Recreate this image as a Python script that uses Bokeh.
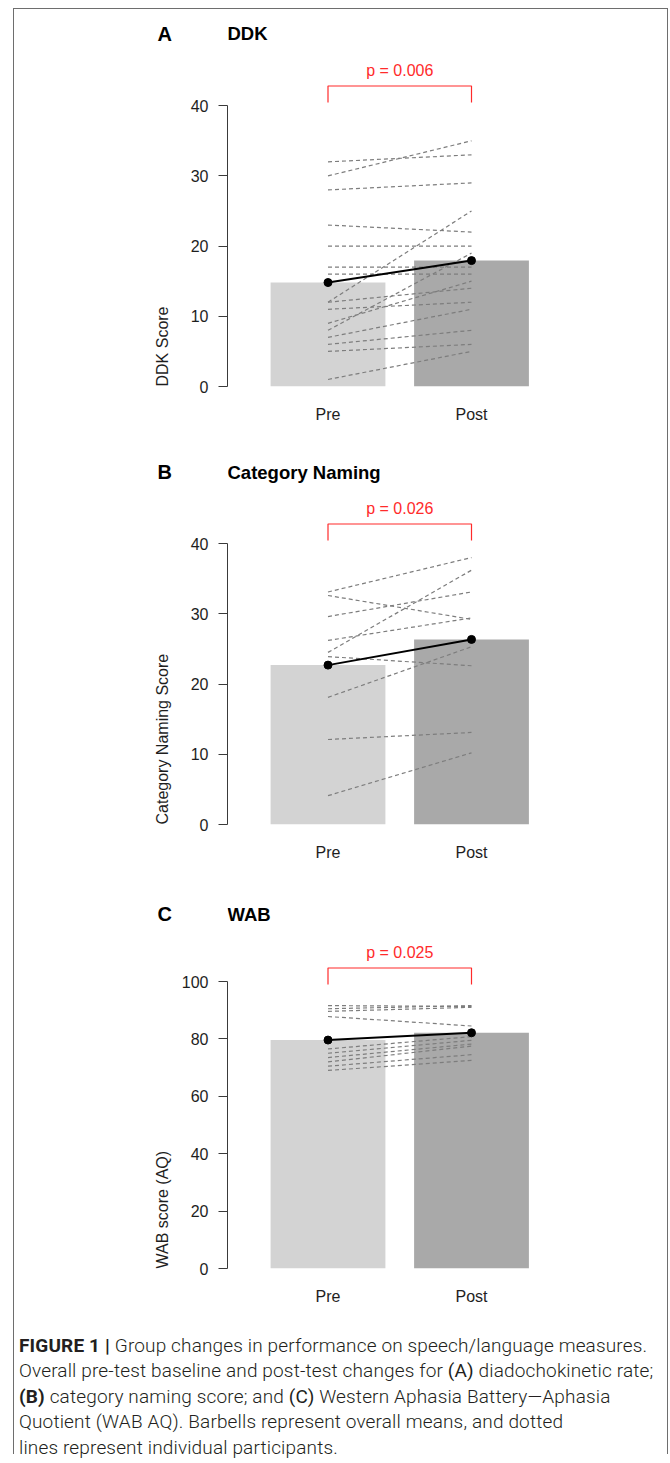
import numpy as np
from bokeh.plotting import figure
from bokeh.models import Range1d, FixedTicker, Label, Div, ColumnDataSource
from bokeh.layouts import column, row
from bokeh.embed import file_html
from bokeh.resources import INLINE

# ---------------- data ----------------
categories = ["Pre", "Post"]

ddk_pre = [32, 30, 28, 23, 20, 17, 16, 12, 12, 11, 9, 8, 7, 6, 5, 1]
ddk_post = [33, 35, 29, 22, 20, 17, 16, 25, 14, 12, 15, 19, 11, 8, 6, 5]

naming_pre = [33.1, 32.6, 29.6, 26.2, 24.5, 23.9, 18.1, 12.1, 4.1]
naming_post = [38.0, 29.2, 33.1, 29.4, 36.2, 22.6, 25.3, 13.1, 10.2]

wab_pre = [91.6, 90.5, 89.6, 87.8, 76.5, 75.0, 73.5, 72.0, 70.5, 69.0]
wab_post = [91.3, 91.6, 91.0, 84.5, 80.8, 79.5, 78.2, 77.5, 74.5, 72.5]

panel_letters = ["A", "B", "C"]
panel_titles = ["DDK", "Category Naming", "WAB"]
y_labels = ["DDK Score", "Category Naming Score", "WAB score (AQ)"]
p_values = ["p = 0.006", "p = 0.026", "p = 0.025"]
ddk_ticks = [0, 10, 20, 30, 40]
naming_ticks = [0, 10, 20, 30, 40]
wab_ticks = [0, 20, 40, 60, 80, 100]

caption_lines = [
    ("FIGURE 1 |", " Group changes in performance on speech/language measures."),
    ("", "Overall pre-test baseline and post-test changes for <b>(A)</b> diadochokinetic rate;"),
    ("(B)", " category naming score; and <b>(C)</b> Western Aphasia Battery\u2014Aphasia"),
    ("", "Quotient (WAB AQ). Barbells represent overall means, and dotted"),
    ("", "lines represent individual participants."),
]

# ---------------- layout / style constants (page pixels) ----------------
FIG_LEFT = 14          # page x of content left edge (inside border)
FIG_W = 653
SPLIT_X = 175          # page x where the side strip ends and the plot starts
AXIS_X = 227           # page x of the y axis
FRAME_RIGHT = 560
PRE_X = 327.5          # page x of the "Pre" position
PX_PER_CAT = 143.5
BAR_W = 0.80
FONT = "Liberation Sans"
TXT = "#1e1e1e"
AX = "#3a3a3a"
RED = "#ff2b2b"
BRACKET_TOP_PX = 300.5
BRACKET_LEG_PX = 284.0
PTEXT_PX = 316.0


def px_to_x(px):
    return 1 + (px - PRE_X) / PX_PER_CAT


def make_panel(letter, title, ylabel, pval, pre, post, ticks,
               fig_top, fig_h, zero_y, ppu, title_base):
    mbt = 6
    mbb = int(round(fig_top + fig_h - zero_y))
    frame_top = fig_top + mbt
    y_end = (zero_y - frame_top) / ppu
    yr = Range1d(0, y_end)

    # ---- main plot ----
    p = figure(width=FIG_LEFT + FIG_W - SPLIT_X, height=fig_h,
               x_range=Range1d(px_to_x(AXIS_X), px_to_x(FRAME_RIGHT)),
               y_range=yr,
               min_border_left=AXIS_X - SPLIT_X,
               min_border_right=FIG_LEFT + FIG_W - FRAME_RIGHT,
               min_border_top=mbt, min_border_bottom=mbb,
               toolbar_location=None, output_backend="svg", title=None)
    p.outline_line_color = None
    p.xgrid.visible = False
    p.ygrid.visible = False
    p.background_fill_color = "white"
    p.border_fill_color = "white"

    xs = list(range(1, len(categories) + 1))
    means = [float(np.mean(pre)), float(np.mean(post))]

    src = ColumnDataSource(dict(x=xs, top=means, color=["#d3d3d3", "#a9a9a9"]))
    p.vbar(x="x", top="top", bottom=0, width=BAR_W, fill_color="color",
           line_color=None, source=src)

    p.multi_line(xs=[xs for _ in pre], ys=[[a, b] for a, b in zip(pre, post)],
                 line_color="#7d7d7d", line_width=1.2, line_dash="4 3")

    p.line(xs, means, line_color="black", line_width=2)
    p.scatter(xs, means, size=8, color="black")

    top = BRACKET_TOP_PX / ppu
    leg = BRACKET_LEG_PX / ppu
    p.line([xs[0], xs[0], xs[1], xs[1]], [leg, top, top, leg],
           line_color=RED, line_width=1.2)
    p.add_layout(Label(x=(xs[0] + xs[1]) / 2, y=PTEXT_PX / ppu, text=pval,
                       text_font=FONT, text_font_size="16px", text_color=RED,
                       text_align="center", text_baseline="middle"))

    ya = p.yaxis[0]
    ya.ticker = FixedTicker(ticks=ticks)
    ya.bounds = (ticks[0], ticks[-1])
    ya.axis_line_color = AX
    ya.major_tick_line_color = AX
    ya.major_tick_out = 9
    ya.major_tick_in = 0
    ya.minor_tick_line_color = None
    ya.major_label_standoff = 10
    ya.major_label_text_font = FONT
    ya.major_label_text_font_size = "16px"
    ya.major_label_text_color = TXT

    xa = p.xaxis[0]
    xa.ticker = FixedTicker(ticks=xs)
    xa.major_label_overrides = {x: c for x, c in zip(xs, categories)}
    xa.axis_line_color = None
    xa.major_tick_line_color = None
    xa.minor_tick_line_color = None
    xa.major_tick_out = 0
    xa.major_tick_in = 0
    xa.major_label_standoff = 19
    xa.major_label_text_font = FONT
    xa.major_label_text_font_size = "16px"
    xa.major_label_text_color = TXT

    base_y = (zero_y - title_base) / ppu
    p.add_layout(Label(x=px_to_x(227), y=base_y, text=title, text_font=FONT,
                       text_font_size="18.5px", text_font_style="bold",
                       text_color="black", text_baseline="alphabetic"))

    # ---- left strip: panel letter and y-axis label ----
    s = figure(width=SPLIT_X - FIG_LEFT, height=fig_h,
               x_range=Range1d(FIG_LEFT, SPLIT_X), y_range=yr,
               min_border_left=0, min_border_right=0,
               min_border_top=mbt, min_border_bottom=mbb,
               x_axis_location=None, y_axis_location=None,
               toolbar_location=None, output_backend="svg", title=None)
    s.outline_line_color = None
    s.xgrid.visible = False
    s.ygrid.visible = False
    s.border_fill_color = "white"
    s.add_layout(Label(x=157, y=base_y, text=letter, text_font=FONT,
                       text_font_size="20px", text_font_style="bold",
                       text_color="black", text_baseline="alphabetic"))
    s.add_layout(Label(x=162, y=0, text=ylabel, angle=np.pi / 2,
                       text_font=FONT, text_font_size="16px", text_color=TXT,
                       text_align="left", text_baseline="middle"))
    return row(s, p, spacing=0)


pA = make_panel(panel_letters[0], panel_titles[0], y_labels[0], p_values[0],
                ddk_pre, ddk_post, ddk_ticks, 9, 440, 386, 7.02, 33.0)
pB = make_panel(panel_letters[1], panel_titles[1], y_labels[1], p_values[1],
                naming_pre, naming_post, naming_ticks, 449, 440, 824, 7.025, 471.5)
pC = make_panel(panel_letters[2], panel_titles[2], y_labels[2], p_values[2],
                wab_pre, wab_post, wab_ticks, 889, 429, 1268, 2.87, 913.5)

lines_html = []
for bold, rest in caption_lines:
    seg = (f"<b style='font-weight:700'>{bold}</b>" if bold else "") + rest
    lines_html.append(seg)
caption_html = ("<div style=\"font-family:Roboto; font-weight:300; font-size:19px; "
                "letter-spacing:0.15px; line-height:25.4px; color:#231f20; "
                "padding:15px 0 0 5px; white-space:nowrap;\">"
                + "<br>".join(lines_html) + "</div>")
cap = Div(text=caption_html, width=FIG_W, height=136, margin=0)

layout = column(pA, pB, pC, cap, margin=(8, 0, 0, 13), spacing=0,
                styles={"border-top": "1px solid #6e6e6e",
                        "border-left": "1px solid #6e6e6e",
                        "border-right": "1px solid #6e6e6e"})

open("out.html", "w").write(file_html(layout, INLINE))
